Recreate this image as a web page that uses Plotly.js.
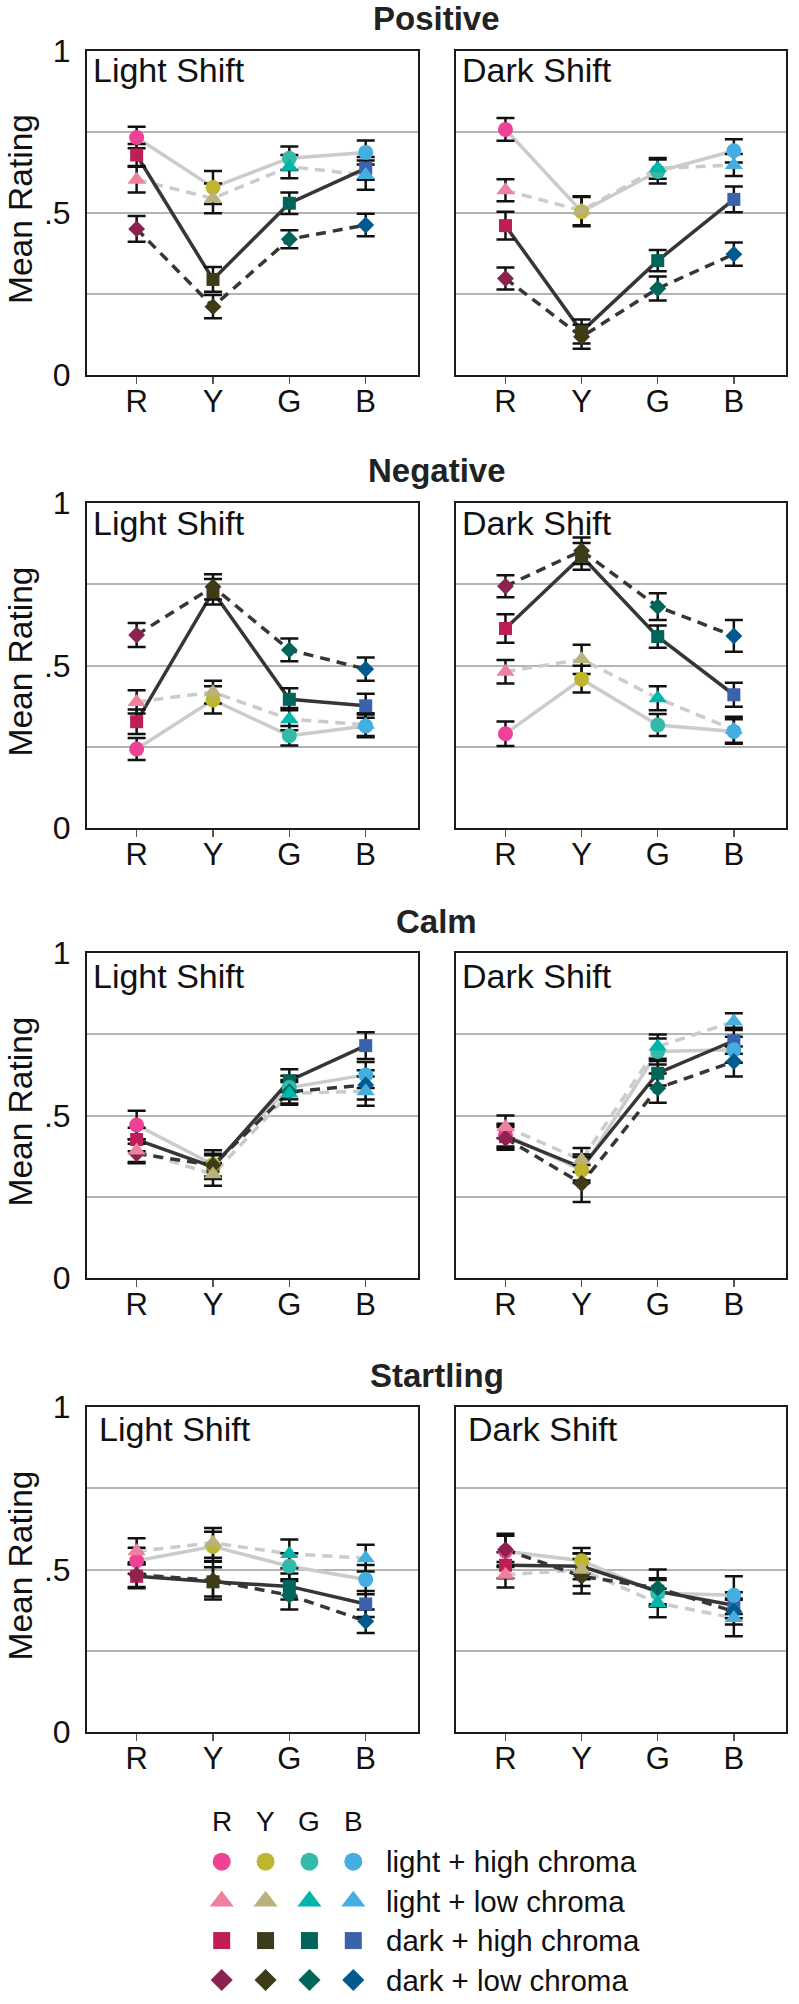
<!DOCTYPE html>
<html>
<head>
<meta charset="utf-8">
<script src="https://cdn.plot.ly/plotly-3.0.1.min.js"></script>
<style>html,body{margin:0;padding:0;background:#fff;}#chart{width:799px;height:2004px;}</style>
</head>
<body>
<div id="chart"></div>
<script>
// ---------------- DATA ----------------
const categories = ['R', 'Y', 'G', 'B'];
const conditionNames = ['light + high chroma', 'light + low chroma', 'dark + high chroma', 'dark + low chroma'];
const emotions = ['Positive', 'Negative', 'Calm', 'Startling'];
const shifts = ['Light Shift', 'Dark Shift'];
const yTickVals = [0, 0.25, 0.5, 0.75, 1];
const yTickText = ['0', '', '.5', '', '1'];
const yAxisTitle = 'Mean Rating';

// marker colours per condition, over R, Y, G, B
const colorsLightHigh = ['#EE4296', '#BEB62F', '#33BBAA', '#44AEE0'];
const colorsLightLow  = ['#EE829E', '#B9B27C', '#00B5AA', '#44AEE0'];
const colorsDarkHigh  = ['#BE1E55', '#3E3B18', '#00665A', '#3B62AD'];
const colorsDarkLow   = ['#8B2250', '#3E3B18', '#00665A', '#005A8D'];

// means: rows = light+high, light+low, dark+high, dark+low ; columns = R, Y, G, B
const positiveLightMean = [[0.733, 0.579, 0.669, 0.687], [0.603, 0.545, 0.643, 0.617], [0.679, 0.295, 0.530, 0.638], [0.451, 0.211, 0.419, 0.463]];
const positiveLightErr  = [[0.033, 0.051, 0.036, 0.037], [0.040, 0.046, 0.036, 0.045], [0.034, 0.038, 0.033, 0.035], [0.040, 0.036, 0.028, 0.035]];
const positiveDarkMean  = [[0.758, 0.504, 0.628, 0.692], [0.570, 0.507, 0.638, 0.648], [0.461, 0.134, 0.353, 0.542], [0.298, 0.118, 0.267, 0.373]];
const positiveDarkErr   = [[0.035, 0.045, 0.037, 0.036], [0.034, 0.045, 0.032, 0.034], [0.043, 0.037, 0.033, 0.040], [0.034, 0.037, 0.037, 0.036]];
const negativeLightMean = [[0.243, 0.394, 0.284, 0.314], [0.388, 0.418, 0.335, 0.318], [0.327, 0.727, 0.396, 0.376], [0.594, 0.742, 0.548, 0.489]];
const negativeLightErr  = [[0.034, 0.042, 0.030, 0.035], [0.036, 0.035, 0.034, 0.035], [0.038, 0.039, 0.034, 0.037], [0.037, 0.039, 0.035, 0.036]];
const negativeDarkMean  = [[0.290, 0.458, 0.317, 0.297], [0.481, 0.519, 0.399, 0.302], [0.614, 0.836, 0.589, 0.410], [0.744, 0.853, 0.681, 0.591]];
const negativeDarkErr   = [[0.038, 0.041, 0.034, 0.038], [0.036, 0.045, 0.037, 0.040], [0.044, 0.041, 0.034, 0.037], [0.034, 0.041, 0.041, 0.049]];
const calmLightMean     = [[0.471, 0.349, 0.586, 0.625], [0.392, 0.319, 0.568, 0.575], [0.426, 0.342, 0.607, 0.715], [0.383, 0.347, 0.573, 0.594]];
const calmLightErr      = [[0.044, 0.044, 0.036, 0.040], [0.035, 0.035, 0.035, 0.045], [0.036, 0.036, 0.035, 0.041], [0.030, 0.035, 0.036, 0.045]];
const calmDarkMean      = [[0.440, 0.332, 0.697, 0.702], [0.465, 0.363, 0.712, 0.789], [0.435, 0.340, 0.630, 0.730], [0.430, 0.291, 0.584, 0.666]];
const calmDarkErr       = [[0.035, 0.040, 0.040, 0.040], [0.035, 0.037, 0.037, 0.026], [0.035, 0.040, 0.038, 0.040], [0.035, 0.057, 0.045, 0.046]];
const startlingLightMean = [[0.527, 0.571, 0.510, 0.469], [0.556, 0.582, 0.548, 0.535], [0.479, 0.462, 0.448, 0.394], [0.484, 0.466, 0.421, 0.341]];
const startlingLightErr  = [[0.040, 0.045, 0.040, 0.045], [0.040, 0.046, 0.044, 0.041], [0.037, 0.045, 0.040, 0.040], [0.038, 0.058, 0.044, 0.036]];
const startlingDarkMean  = [[0.556, 0.527, 0.428, 0.421], [0.484, 0.499, 0.397, 0.351], [0.513, 0.510, 0.433, 0.390], [0.561, 0.479, 0.443, 0.371]];
const startlingDarkErr   = [[0.048, 0.039, 0.040, 0.058], [0.039, 0.050, 0.044, 0.056], [0.040, 0.040, 0.040, 0.040], [0.049, 0.053, 0.057, 0.040]];

// ---------------- TABLES BUILT FROM DATA ----------------
const panelTable = [
  [[positiveLightMean, positiveLightErr], [positiveDarkMean, positiveDarkErr]],
  [[negativeLightMean, negativeLightErr], [negativeDarkMean, negativeDarkErr]],
  [[calmLightMean, calmLightErr], [calmDarkMean, calmDarkErr]],
  [[startlingLightMean, startlingLightErr], [startlingDarkMean, startlingDarkErr]]
];
const conditionColors = [colorsLightHigh, colorsLightLow, colorsDarkHigh, colorsDarkLow];

// ---------------- STYLE ----------------
const W = 799, H = 2004;
const FONT = 'Liberation Sans, Arial, Helvetica, sans-serif';
const symbols = ['circle', 'triangle-up', 'square', 'diamond'];
const markerSizes = [15, 16, 13, 13];
const legendSizes = [18, 21, 17, 17];
const lineColors = ['#cbcbcb', '#cbcbcb', '#363636', '#363636'];
const lineDashes = ['solid', '10px,7px', 'solid', '10px,7px'];
const lineOrder = [0, 1, 2, 3];
const markerOrder = [2, 0, 3, 1];
const rowsPx = [[51, 375], [503, 828], [953, 1278], [1407, 1732]];
const colsPx = [[87, 418], [456, 786]];
const labelDy = [19, 20, 23, 22];
const labelDx = [4, 4, 4, 10];

const px2x = p => p / W;
const px2y = p => 1 - p / H;

const traces = [];
const layout = {
  width: W, height: H,
  margin: {l: 0, r: 0, t: 0, b: 0},
  showlegend: false,
  hovermode: false,
  paper_bgcolor: '#ffffff',
  plot_bgcolor: '#ffffff',
  font: {family: FONT, color: '#111111'},
  annotations: []
};

let k = 0;
for (let r = 0; r < emotions.length; r++) {
  for (let c = 0; c < shifts.length; c++) {
    k++;
    const sfx = k === 1 ? '' : String(k);
    const xa = 'x' + sfx, ya = 'y' + sfx;
    const [means, errs] = panelTable[r][c];
    layout['xaxis' + sfx] = {
      domain: [px2x(colsPx[c][0]), px2x(colsPx[c][1])],
      anchor: ya,
      type: 'category',
      categoryorder: 'array', categoryarray: categories,
      range: [-0.65, 3.685],
      showline: true, mirror: true, linecolor: '#1a1a1a', linewidth: 2,
      ticks: 'outside', ticklen: 7, tickwidth: 1.5, tickcolor: '#555555',
      tickfont: {size: 31, family: FONT, color: '#111111'},
      ticklabelstandoff: -9,
      showgrid: false, zeroline: false, fixedrange: true
    };
    layout['yaxis' + sfx] = {
      domain: [px2y(rowsPx[r][1]), px2y(rowsPx[r][0])],
      anchor: xa,
      range: [0, 1],
      tickvals: yTickVals, ticktext: yTickText,
      showticklabels: c === 0,
      ticks: '',
      ticklabelstandoff: 8,
      tickfont: {size: 32, family: FONT, color: '#111111'},
      showgrid: true, gridcolor: '#b4b4b4', gridwidth: 2,
      showline: true, mirror: true, linecolor: '#1a1a1a', linewidth: 2,
      zeroline: false, fixedrange: true
    };
    // connecting lines
    lineOrder.forEach(i => {
      traces.push({
        type: 'scatter', mode: 'lines', x: categories, y: means[i],
        xaxis: xa, yaxis: ya,
        line: {color: lineColors[i], width: 3.5, dash: lineDashes[i]},
        hoverinfo: 'skip'
      });
    });
    // error bars
    markerOrder.forEach(i => {
      traces.push({
        type: 'scatter', mode: 'markers', x: categories, y: means[i],
        xaxis: xa, yaxis: ya,
        marker: {size: 1, opacity: 0},
        error_y: {type: 'data', array: errs[i], visible: true, color: '#111111', thickness: 2.5, width: 9},
        hoverinfo: 'skip'
      });
    });
    // markers
    markerOrder.forEach(i => {
      traces.push({
        type: 'scatter', mode: 'markers', x: categories, y: means[i],
        xaxis: xa, yaxis: ya, name: conditionNames[i],
        marker: {color: conditionColors[i], symbol: symbols[i], size: markerSizes[i], line: {width: 0}},
        hoverinfo: 'skip'
      });
    });
    // panel label
    layout.annotations.push({
      xref: 'paper', yref: 'paper',
      x: px2x(colsPx[c][0] + labelDx[r]), y: px2y(rowsPx[r][0] + labelDy[r]),
      xanchor: 'left', yanchor: 'middle',
      text: shifts[c], showarrow: false,
      font: {size: 34, family: FONT, color: '#111111'}
    });
  }
  // row title
  layout.annotations.push({
    xref: 'paper', yref: 'paper',
    x: px2x((colsPx[0][0] + colsPx[1][1]) / 2), y: px2y(rowsPx[r][0] - 32),
    xanchor: 'center', yanchor: 'middle',
    text: '<b>' + emotions[r] + '</b>', showarrow: false,
    font: {size: 33, family: FONT, color: '#222222'}
  });
  // y axis title
  layout.annotations.push({
    xref: 'paper', yref: 'paper',
    x: px2x(20), y: px2y((rowsPx[r][0] + rowsPx[r][1]) / 2 - 4),
    xanchor: 'center', yanchor: 'middle', textangle: -90,
    text: yAxisTitle, showarrow: false,
    font: {size: 33.5, family: FONT, color: '#111111'}
  });
}

// ---------------- LEGEND (its own subplot) ----------------
layout.xaxis9 = {
  domain: [px2x(221.7), px2x(353.3)], anchor: 'y9',
  type: 'category', categoryorder: 'array', categoryarray: categories,
  range: [0, 3], visible: false, fixedrange: true
};
layout.yaxis9 = {
  domain: [px2y(1980), px2y(1861.7)], anchor: 'x9',
  type: 'category', categoryorder: 'array', categoryarray: conditionNames,
  range: [3, 0], visible: false, fixedrange: true
};
conditionNames.forEach((name, i) => {
  traces.push({
    type: 'scatter', mode: 'markers', x: categories, y: categories.map(() => name),
    xaxis: 'x9', yaxis: 'y9', cliponaxis: false,
    marker: {color: conditionColors[i], symbol: symbols[i], size: legendSizes[i], line: {width: 0}},
    hoverinfo: 'skip'
  });
  layout.annotations.push({
    xref: 'paper', yref: 'y9', x: px2x(384), y: i,
    xanchor: 'left', yanchor: 'middle', text: name, showarrow: false,
    font: {size: 29.5, family: FONT, color: '#111111'}
  });
});
categories.forEach((cat, j) => {
  layout.annotations.push({
    xref: 'x9', yref: 'paper', x: j, y: px2y(1821.7),
    xanchor: 'center', yanchor: 'middle', text: cat, showarrow: false,
    font: {size: 28, family: FONT, color: '#111111'}
  });
});

Plotly.newPlot('chart', traces, layout, {displayModeBar: false, staticPlot: true});
</script>
</body>
</html>
